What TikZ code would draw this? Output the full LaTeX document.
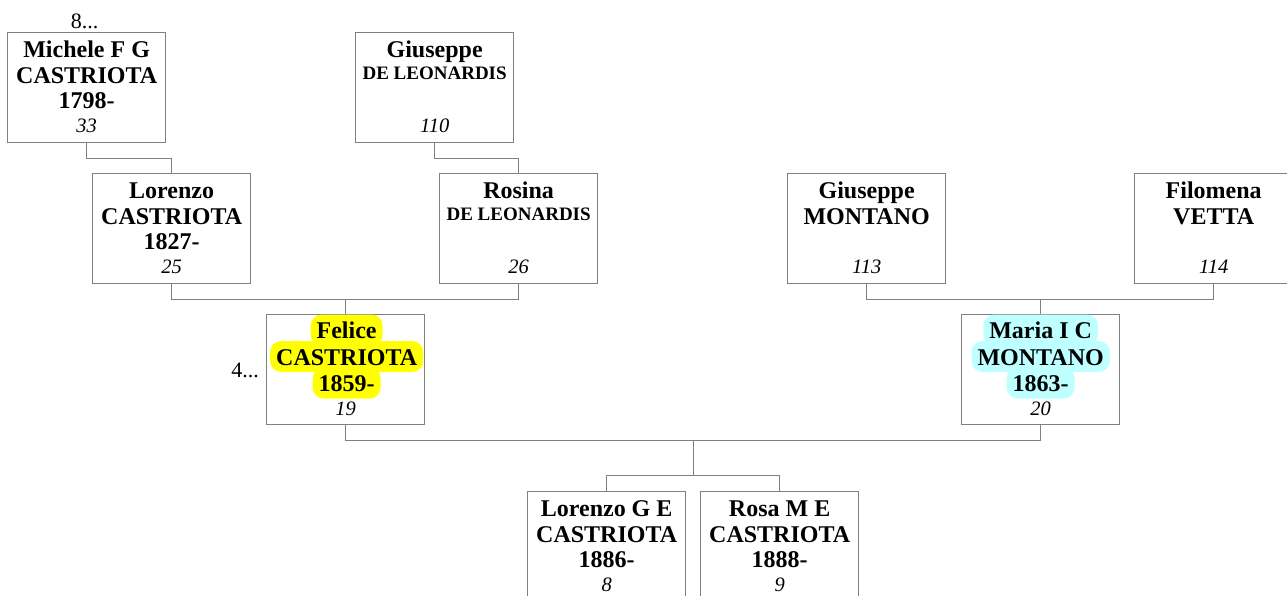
\documentclass[tikz,border=0pt]{standalone}
\usepackage{fontspec}
\setmainfont{Liberation Serif}
\usetikzlibrary{calc}
\definecolor{linegray}{RGB}{128,128,128}
\definecolor{hlyellow}{RGB}{255,255,0}
\definecolor{hlcyan}{RGB}{190,255,255}
\newcommand\nmfont{\bfseries\fontsize{24}{27}\selectfont}
\newcommand\snfont{\bfseries\fontsize{19}{23}\selectfont}
\newcommand\numfont{\itshape\fontsize{20.5}{24}\selectfont}
\newcommand\refont{\fontsize{22}{26}\selectfont}
\begin{document}
\begin{tikzpicture}[x=1pt,y=-1pt,
 box/.style={draw=linegray,line width=1.3pt,minimum width=158pt,minimum height=110pt,inner sep=0pt,anchor=north west},
 nm/.style={font=\nmfont,anchor=base,inner sep=0pt},
 sn/.style={font=\snfont,anchor=base,inner sep=0pt},
 num/.style={font=\numfont,anchor=base,inner sep=0pt},
 hl/.style={font=\nmfont,anchor=base,fill=#1,rounded corners=11pt,inner xsep=6pt,inner ysep=0pt,text height=24pt,text depth=7pt},
 link/.style={draw=linegray,line width=1.1pt},
 refnum/.style={font=\refont,anchor=base,inner sep=0pt}]
\useasboundingbox (0,0) rectangle (1287,595);
% boxes
\node[box] (b1) at (7,32) {};
\node[box] (b2) at (355,32) {};
\node[box] (b4) at (92,173) {};
\node[box] (b5) at (439,173) {};
\node[box] (b6) at (787,173) {};
\node[box] (b3) at (1134,173) {};
\node[box] (b7) at (266,314) {};
\node[box] (b8) at (961,314) {};
\node[box] (b9) at (527,491) {};
\node[box] (b10) at (700,491) {};
% Michele
\node[nm] (t1a) at ($(b1.north)+(0,25)$) {Michele F G};
\node[nm] (t1b) at ($(b1.north)+(0,51)$) {CASTRIOTA};
\node[nm] (t1c) at ($(b1.north)+(0,76)$) {1798-};
\node[num] (t1d) at ($(b1.north)+(0,100)$) {33};
\node[refnum] (r8) at ($(b1.north)+(-2,-4)$) {8...};
% Giuseppe DE LEONARDIS
\node[nm] (t2a) at ($(b2.north)+(0,25)$) {Giuseppe};
\node[sn] (t2b) at ($(b2.north)+(0,47.5)$) {DE LEONARDIS};
\node[num] (t2d) at ($(b2.north)+(0,100)$) {110};
% Lorenzo
\node[nm] (t4a) at ($(b4.north)+(0,25)$) {Lorenzo};
\node[nm] (t4b) at ($(b4.north)+(0,51)$) {CASTRIOTA};
\node[nm] (t4c) at ($(b4.north)+(0,76)$) {1827-};
\node[num] (t4d) at ($(b4.north)+(0,100)$) {25};
% Rosina
\node[nm] (t5a) at ($(b5.north)+(0,25)$) {Rosina};
\node[sn] (t5b) at ($(b5.north)+(0,47.5)$) {DE LEONARDIS};
\node[num] (t5d) at ($(b5.north)+(0,100)$) {26};
% Giuseppe MONTANO
\node[nm] (t6a) at ($(b6.north)+(0,25)$) {Giuseppe};
\node[nm] (t6b) at ($(b6.north)+(0,51)$) {MONTANO};
\node[num] (t6d) at ($(b6.north)+(0,100)$) {113};
% Filomena
\node[nm] (t3a) at ($(b3.north)+(0,25)$) {Filomena};
\node[nm] (t3b) at ($(b3.north)+(0,51)$) {VETTA};
\node[num] (t3d) at ($(b3.north)+(0,100)$) {114};
% Felice
\node[hl=hlyellow] (t7a) at ($(b7.north)+(1,24.5)$) {Felice};
\node[hl=hlyellow] (t7b) at ($(b7.north)+(1,51)$) {CASTRIOTA};
\node[hl=hlyellow] (t7c) at ($(b7.north)+(1,77.5)$) {1859-};
\node[num] (t7d) at ($(b7.north)+(0,101)$) {19};
\node[refnum,anchor=base east] (r4) at ($(b7.west)+(-7,8)$) {4...};
% Maria
\node[hl=hlcyan] (t8a) at ($(b8.north)+(0,24.5)$) {Maria I C};
\node[hl=hlcyan] (t8b) at ($(b8.north)+(0,51)$) {MONTANO};
\node[hl=hlcyan] (t8c) at ($(b8.north)+(0,77.5)$) {1863-};
\node[num] (t8d) at ($(b8.north)+(0,101)$) {20};
% children
\node[nm] (t9a) at ($(b9.north)+(0,25)$) {Lorenzo G E};
\node[nm] (t9b) at ($(b9.north)+(0,51)$) {CASTRIOTA};
\node[nm] (t9c) at ($(b9.north)+(0,76)$) {1886-};
\node[num] (t9d) at ($(b9.north)+(0,100)$) {8};
\node[nm] (t10a) at ($(b10.north)+(0,25)$) {Rosa M E};
\node[nm] (t10b) at ($(b10.north)+(0,51)$) {CASTRIOTA};
\node[nm] (t10c) at ($(b10.north)+(0,76)$) {1888-};
\node[num] (t10d) at ($(b10.north)+(0,100)$) {9};
% connectors
\draw[link] (b1.south) -- ++(0,15.5) -| (b4.north);
\draw[link] (b2.south) -- ++(0,15.5) -| (b5.north);
\draw[link] (b4.south) -- ++(0,15.5) -| (b5.south);
\coordinate (j1) at ($(b4.south)!0.5!(b5.south)+(0,15.5)$);
\draw[link] (j1) -- (j1 |- b7.north);
\draw[link] (b6.south) -- ++(0,15.5) -| (b3.south);
\coordinate (j2) at ($(b6.south)!0.5!(b3.south)+(0,15.5)$);
\draw[link] (j2) -- (j2 |- b8.north);
\draw[link] (b7.south) -- ++(0,15.5) -| (b8.south);
\coordinate (j3) at ($(b7.south)!0.5!(b8.south)+(0,15.5)$);
\coordinate (j4) at ($(j3)+(0,35)$);
\draw[link] (j3) -- (j4);
\draw[link] (b9.north) |- (j4) -| (b10.north);
\end{tikzpicture}
\end{document}
